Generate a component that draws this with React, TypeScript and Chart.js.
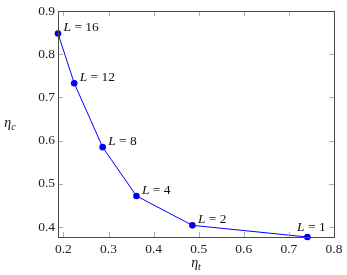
import React, { useEffect, useRef } from "react";
import { Chart, registerables } from "chart.js";

Chart.register(...registerables);

const etaT = [0.188, 0.224, 0.287, 0.362, 0.486, 0.741];
const etaC = [0.848, 0.733, 0.585, 0.472, 0.404, 0.377];
const layers = ["16", "12", "8", "4", "2", "1"];
const xTicks = [0.2, 0.3, 0.4, 0.5, 0.6, 0.7, 0.8];
const yTicks = [0.4, 0.5, 0.6, 0.7, 0.8, 0.9];
const xMin = 0.188, xMax = 0.8, yMin = 0.377, yMax = 0.9;

const SERIF = "'Liberation Serif', 'DejaVu Serif', serif";
const FS = 13.5;

const framePlugin = {
  id: "frame",
  afterDraw(chart: any) {
    const { ctx, chartArea: a } = chart;
    const xs = chart.scales.x, ys = chart.scales.y;
    ctx.save();
    ctx.strokeStyle = "#b0b0b0";
    ctx.lineWidth = 1;
    const tl = 5;
    ctx.beginPath();
    xTicks.forEach((v) => {
      const px = Math.round(xs.getPixelForValue(v)) + 0.5;
      ctx.moveTo(px, a.bottom); ctx.lineTo(px, a.bottom - tl);
      ctx.moveTo(px, a.top); ctx.lineTo(px, a.top + tl);
    });
    yTicks.forEach((v) => {
      const py = Math.round(ys.getPixelForValue(v)) + 0.5;
      ctx.moveTo(a.left, py); ctx.lineTo(a.left + tl, py);
      ctx.moveTo(a.right, py); ctx.lineTo(a.right - tl, py);
    });
    ctx.stroke();
    ctx.strokeStyle = "#4a4a4a";
    ctx.lineWidth = 1;
    ctx.strokeRect(Math.round(a.left) + 0.5, Math.round(a.top) + 0.5,
      Math.round(a.right - a.left), Math.round(a.bottom - a.top));
    ctx.restore();
  },
};

function drawSub(ctx: any, base: string, sub: string, cx: number, cy: number) {
  ctx.font = `italic 14px ${SERIF}`;
  const w1 = ctx.measureText(base).width;
  ctx.font = `italic 10px ${SERIF}`;
  const w2 = ctx.measureText(sub).width;
  const x0 = cx - (w1 + w2) / 2;
  ctx.textBaseline = "alphabetic";
  ctx.textAlign = "left";
  ctx.font = `italic 14px ${SERIF}`;
  ctx.fillText(base, x0, cy + 3);
  ctx.font = `italic 10px ${SERIF}`;
  ctx.fillText(sub, x0 + w1, cy + 5.5);
}

const labelPlugin = {
  id: "labels",
  afterDatasetsDraw(chart: any) {
    const { ctx, chartArea: a } = chart;
    const meta = chart.getDatasetMeta(0);
    ctx.save();
    ctx.fillStyle = "#111";
    meta.data.forEach((pt: any, i: number) => {
      ctx.font = `italic ${FS}px ${SERIF}`;
      const wL = ctx.measureText("L").width;
      ctx.font = `${FS}px ${SERIF}`;
      const rest = " = " + layers[i];
      const wR = ctx.measureText(rest).width;
      const last = i === meta.data.length - 1;
      let x0 = pt.x + 5.5;
      let cy = pt.y - 6;
      if (last) {
        x0 = pt.x - (wL + wR) / 2 + 4;
        cy = pt.y - 10;
      }
      ctx.textBaseline = "middle";
      ctx.textAlign = "left";
      ctx.font = `italic ${FS}px ${SERIF}`;
      ctx.fillText("L", x0, cy);
      ctx.font = `${FS}px ${SERIF}`;
      ctx.fillText(rest, x0 + wL, cy);
    });
    drawSub(ctx, "η", "c", 10, (a.top + a.bottom) / 2);
    drawSub(ctx, "η", "t", (a.left + a.right) / 2, 264);
    ctx.restore();
  },
};

export default function App() {
  const ref = useRef<HTMLCanvasElement>(null);
  useEffect(() => {
    if (!ref.current) return;
    const chart = new Chart(ref.current, {
      type: "scatter",
      data: {
        datasets: [
          {
            data: etaT.map((x, i) => ({ x, y: etaC[i] })),
            showLine: true,
            borderColor: "#0000ff",
            borderWidth: 1,
            backgroundColor: "#0000ee",
            pointBackgroundColor: "#0000ee",
            pointBorderColor: "#0000ee",
            pointRadius: 3.3,
            pointBorderWidth: 0,
            clip: false as any,
          },
        ],
      },
      options: {
        animation: false,
        responsive: false,
        layout: { padding: { top: 8, right: 13, left: 0, bottom: 0 } },
        plugins: { legend: { display: false }, tooltip: { enabled: false } },
        scales: {
          x: {
            type: "linear",
            min: xMin,
            max: xMax,
            grid: { display: false, drawTicks: false },
            border: { display: false },
            afterBuildTicks: (s: any) => { s.ticks = xTicks.map((v) => ({ value: v })); },
            afterFit: (s: any) => { s.height = 38; },
            ticks: {
              padding: 4,
              color: "#222",
              font: { family: SERIF, size: FS },
              callback: (v: any) => Number(v).toFixed(1),
              maxRotation: 0,
            },
          },
          y: {
            type: "linear",
            min: yMin,
            max: yMax,
            grid: { display: false, drawTicks: false },
            border: { display: false },
            afterBuildTicks: (s: any) => { s.ticks = yTicks.map((v) => ({ value: v })); },
            afterFit: (s: any) => { s.width = 58; },
            ticks: {
              padding: 3,
              color: "#222",
              font: { family: SERIF, size: FS },
              callback: (v: any) => Number(v).toFixed(1),
            },
          },
        },
      },
      plugins: [framePlugin, labelPlugin],
    });
    return () => chart.destroy();
  }, []);
  return (
    <div style={{ position: "absolute", left: 0, top: 0, width: 347, height: 275, background: "#fff" }}>
      <canvas ref={ref} width={347} height={275} />
    </div>
  );
}
